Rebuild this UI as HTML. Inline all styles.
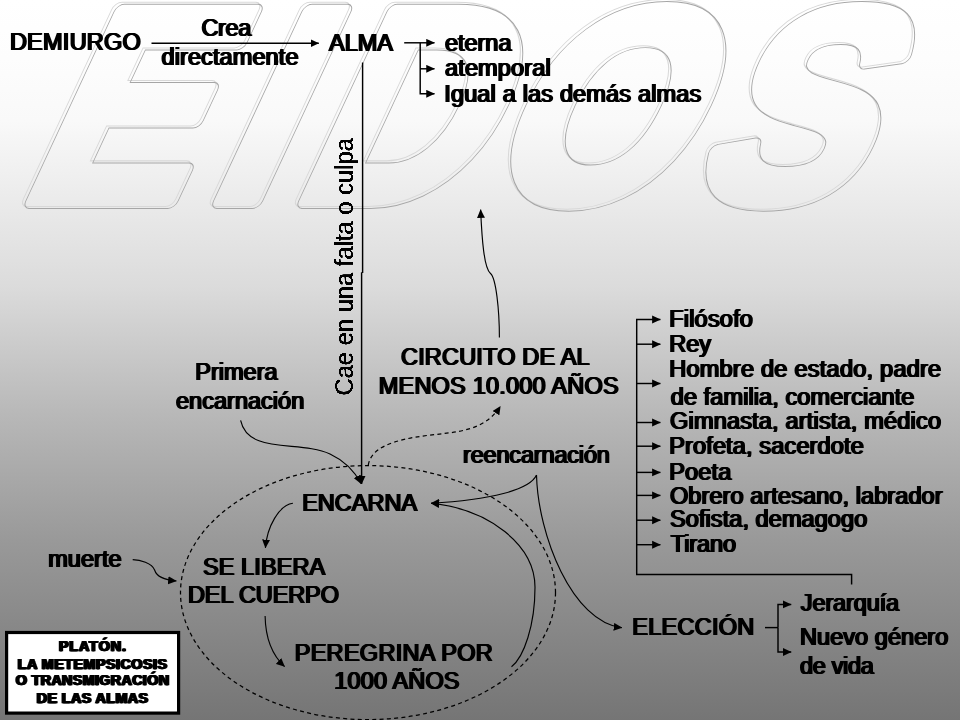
<!DOCTYPE html>
<html lang="es">
<head>
<meta charset="utf-8">
<title>Platón – La metempsicosis o transmigración de las almas</title>
<style>
html,body{margin:0;padding:0;}
body{width:960px;height:720px;overflow:hidden;background:#808080;}
svg{display:block;}
.t{font-family:"Liberation Sans",sans-serif;font-size:23.5px;fill:#000;stroke:none;}
.h{filter:drop-shadow(1px 0 0 #000) drop-shadow(-1px 0 0 #000) blur(0.35px);}
.v{filter:url(#fv);}
.ln{fill:none;stroke:#000;stroke-width:1.45px;}
.cv{fill:none;stroke:#000;stroke-width:1.15px;}
.ds{fill:none;stroke:#000;stroke-width:1.25px;stroke-dasharray:4 3.3;}
.box{font-family:"Liberation Sans",sans-serif;font-weight:bold;font-size:14.3px;fill:#000;stroke:#000;stroke-width:0.25px;text-anchor:middle;}
</style>
</head>
<body>
<svg width="960" height="720" viewBox="0 0 960 720">
<defs>
<linearGradient id="bg" gradientUnits="userSpaceOnUse" x1="0" y1="0" x2="0" y2="720">
<stop offset="0" stop-color="#ffffff"/>
<stop offset="0.08" stop-color="#fdfdfd"/>
<stop offset="0.167" stop-color="#f9f9f9"/>
<stop offset="0.222" stop-color="#f2f2f2"/>
<stop offset="0.40" stop-color="#dbdbdb"/>
<stop offset="0.58" stop-color="#b7b7b7"/>
<stop offset="0.75" stop-color="#999999"/>
<stop offset="1" stop-color="#757575"/>
</linearGradient>
<marker id="ah" viewBox="0 0 10 10" refX="9.6" refY="5" markerWidth="8.6" markerHeight="8.6" markerUnits="userSpaceOnUse" orient="auto">
<path d="M0,0.4 L10,5 L0,9.6 Z" fill="#000"/>
</marker>
<filter id="fv" filterUnits="userSpaceOnUse" x="320" y="120" width="50" height="290" color-interpolation-filters="sRGB">
<feGaussianBlur in="SourceAlpha" stdDeviation="0.7" result="b"/>
<feComponentTransfer in="b" result="e"><feFuncA type="linear" slope="4" intercept="-2.03"/></feComponentTransfer>
<feOffset in="e" dy="1" result="e1"/>
<feMerge result="m"><feMergeNode in="e"/><feMergeNode in="e1"/></feMerge>
<feGaussianBlur in="m" stdDeviation="0.3"/>
</filter>
</defs>
<rect width="960" height="720" fill="url(#bg)"/>

<!-- EIDOS watermark -->
<mask id="eidosMask" maskUnits="userSpaceOnUse" x="0" y="0" width="960" height="720">
<rect x="0" y="0" width="960" height="720" fill="#fff"/>
<g transform="matrix(0.9 0 -0.4663 1 93.7 0)" font-family="'Liberation Sans',sans-serif" font-weight="bold" font-size="275" fill="#000" stroke="#000" stroke-width="14" stroke-linejoin="round">
<text x="17.8 226.4 321 531 762" y="201">EIDOS</text>
</g>
</mask>
<g id="eidos">
<g transform="translate(-2.4,-2)"><g mask="url(#eidosMask)"><g transform="matrix(0.9 0 -0.4663 1 93.7 0)" font-family="'Liberation Sans',sans-serif" font-weight="bold" font-size="275" fill="#d8d8d8" stroke="#d8d8d8" stroke-width="16.1" stroke-linejoin="round">
<text x="17.8 226.4 321 531 762" y="201">EIDOS</text>
</g></g></g>
<g mask="url(#eidosMask)"><g transform="matrix(0.9 0 -0.4663 1 93.7 0)" font-family="'Liberation Sans',sans-serif" font-weight="bold" font-size="275" fill="#a6a6a6" stroke="#a6a6a6" stroke-width="15.9" stroke-linejoin="round">
<text x="17.8 226.4 321 531 762" y="201">EIDOS</text>
</g></g>
</g>

<!-- lines and arrows -->
<g id="lines" style="filter:blur(0.3px)">
<path class="ln" d="M151.5,43.2 H318.8" marker-end="url(#ah)"/>
<path class="ln" d="M404.2,42.8 H434.5" marker-end="url(#ah)"/>
<path class="ln" d="M420.2,42.8 V93.8 H434.5" marker-end="url(#ah)"/>
<path class="ln" d="M420.2,68.8 H434.5" marker-end="url(#ah)"/>
<path class="ln" d="M362.6,62.5 V273"/>
<path class="ln" d="M361.6,272.3 V484" marker-end="url(#ah)"/>
<!-- primera encarnacion -->
<path class="cv" d="M240.6,420.3 C248,455 300,440 330,454 C345,461 355,472 361,483.6" marker-end="url(#ah)"/>
<!-- up arrow from circuito -->
<path class="cv" d="M499.4,337.5 C499.4,310 496,278 490.5,273.5 C484,268 482,240 480.6,209.6" marker-end="url(#ah)"/>
<!-- dashed from ellipse to circuito -->
<path class="ds" d="M368.3,465 C371,448 392,440 426.7,435.5 C455,432 484,432 500.4,406.2" marker-end="url(#ah)"/>
<ellipse class="ds" cx="368" cy="592.6" rx="187.5" ry="127"/>
<!-- encarna -> se libera -->
<path class="cv" d="M292.9,503.3 C279,505 267,527 265.4,547.9" marker-end="url(#ah)"/>
<!-- muerte -->
<path class="cv" d="M132.7,559.6 C140,559.8 152,563 154.6,570 C156.5,576.5 165,580 176.4,581" marker-end="url(#ah)"/>
<!-- del cuerpo -> peregrina -->
<path class="cv" d="M265.1,616 C265.5,638 272,655 284.6,666.6" marker-end="url(#ah)"/>
<!-- peregrina -> encarna -->
<path class="cv" d="M511.5,666.7 C524,657 535,625 535,587.2 C535,545 489,509 431,503.3" marker-end="url(#ah)"/>
<!-- reencarnacion -->
<path class="cv" d="M536.5,475.1 C530,490 490,500 431,503.3" marker-end="url(#ah)"/>
<path class="cv" d="M536.5,475.1 C538,535 572,622 622,627.8" marker-end="url(#ah)"/>
<!-- list bracket -->
<path class="ln" d="M851.6,584.5 V574.5 H636.7 V319.5 H660.4" marker-end="url(#ah)"/>
<path class="ln" d="M636.7,344.2 H660.4" marker-end="url(#ah)"/>
<path class="ln" d="M636.7,383.5 H660.4" marker-end="url(#ah)"/>
<path class="ln" d="M636.7,422.5 H660.4" marker-end="url(#ah)"/>
<path class="ln" d="M636.7,446.2 H660.4" marker-end="url(#ah)"/>
<path class="ln" d="M636.7,472.4 H660.4" marker-end="url(#ah)"/>
<path class="ln" d="M636.7,495.4 H660.4" marker-end="url(#ah)"/>
<path class="ln" d="M636.7,520.2 H660.4" marker-end="url(#ah)"/>
<path class="ln" d="M636.7,544.7 H660.4" marker-end="url(#ah)"/>
<!-- eleccion bracket -->
<path class="ln" d="M765,627.6 H778"/>
<path class="ln" d="M778,627.6 V604.4 H791.2" marker-end="url(#ah)"/>
<path class="ln" d="M778,627.6 V652 H791.2" marker-end="url(#ah)"/>
</g>

<!-- texts -->
<g id="texts" class="t h">
<text x="9.9" y="49.7" style="letter-spacing:0.25px">DEMIURGO</text>
<text x="201.5" y="36.25" style="letter-spacing:-0.35px">Crea</text>
<text x="161.5" y="64.8" style="letter-spacing:0.10px">directamente</text>
<text x="329.0" y="50.6" style="letter-spacing:0.00px">ALMA</text>
<text x="445.0" y="50.6" style="letter-spacing:-0.03px">eterna</text>
<text x="445.0" y="75.8" style="letter-spacing:0.14px">atemporal</text>
<text x="444.2" y="101.7" style="letter-spacing:0.17px">Igual a las demás almas</text>
<text x="195.2" y="379.6" style="letter-spacing:0.03px">Primera</text>
<text x="176.0" y="408.5" style="letter-spacing:0.02px">encarnación</text>
<text x="401.0" y="364.5" style="letter-spacing:0.18px">CIRCUITO DE AL</text>
<text x="378.7" y="393.7" style="letter-spacing:0.22px">MENOS 10.000 AÑOS</text>
<text x="463.0" y="463" style="letter-spacing:-0.17px">reencarnación</text>
<text x="302.2" y="510.5" style="letter-spacing:-0.00px">ENCARNA</text>
<text x="48.2" y="567" style="letter-spacing:0.06px">muerte</text>
<text x="203.0" y="574.5" style="letter-spacing:0.08px">SE LIBERA</text>
<text x="188.0" y="603.2" style="letter-spacing:-0.11px">DEL CUERPO</text>
<text x="294.7" y="660.5" style="letter-spacing:0.29px">PEREGRINA POR</text>
<text x="334.3" y="688.8" style="letter-spacing:0.14px">1000 AÑOS</text>
<text x="669.2" y="327.3" style="letter-spacing:0.21px">Filósofo</text>
<text x="669.2" y="351.5" style="letter-spacing:0.00px">Rey</text>
<text x="669.2" y="376.8" style="letter-spacing:0.25px">Hombre de estado, padre</text>
<text x="670.8" y="405" style="letter-spacing:0.09px">de familia, comerciante</text>
<text x="670.0" y="429.2" style="letter-spacing:0.19px">Gimnasta, artista, médico</text>
<text x="669.2" y="454" style="letter-spacing:0.15px">Profeta, sacerdote</text>
<text x="669.2" y="480.2" style="letter-spacing:0.16px">Poeta</text>
<text x="670.0" y="503.6" style="letter-spacing:0.09px">Obrero artesano, labrador</text>
<text x="670.0" y="527.3" style="letter-spacing:0.08px">Sofista, demagogo</text>
<text x="670.8" y="551.9" style="letter-spacing:-0.08px">Tirano</text>
<text x="632.2" y="635" style="letter-spacing:0.27px">ELECCIÓN</text>
<text x="800.8" y="611" style="letter-spacing:-0.12px">Jerarquía</text>
<text x="800.0" y="645" style="letter-spacing:0.06px">Nuevo género</text>
<text x="800.1" y="673.7" style="letter-spacing:-0.35px">de vida</text>
</g>

<g class="t v">
<text transform="translate(353,395) rotate(-90) scale(0.903,1)" x="0" y="0" style="font-size:26.3px">Cae en una falta o culpa</text>
</g>

<!-- title box -->
<rect x="6.6" y="632.5" width="172" height="80.6" fill="#fff" stroke="#000" stroke-width="3.2"/>
<g class="box h">
<text x="92.4" y="650.7" textLength="67" lengthAdjust="spacing">PLATÓN.</text>
<text x="92.4" y="668.5" textLength="149.2" lengthAdjust="spacing">LA METEMPSICOSIS</text>
<text x="92.4" y="685.3" textLength="153.2" lengthAdjust="spacing">O TRANSMIGRACIÓN</text>
<text x="92.4" y="703.2" textLength="111.3" lengthAdjust="spacing">DE LAS ALMAS</text>
</g>
</svg>
</body>
</html>
